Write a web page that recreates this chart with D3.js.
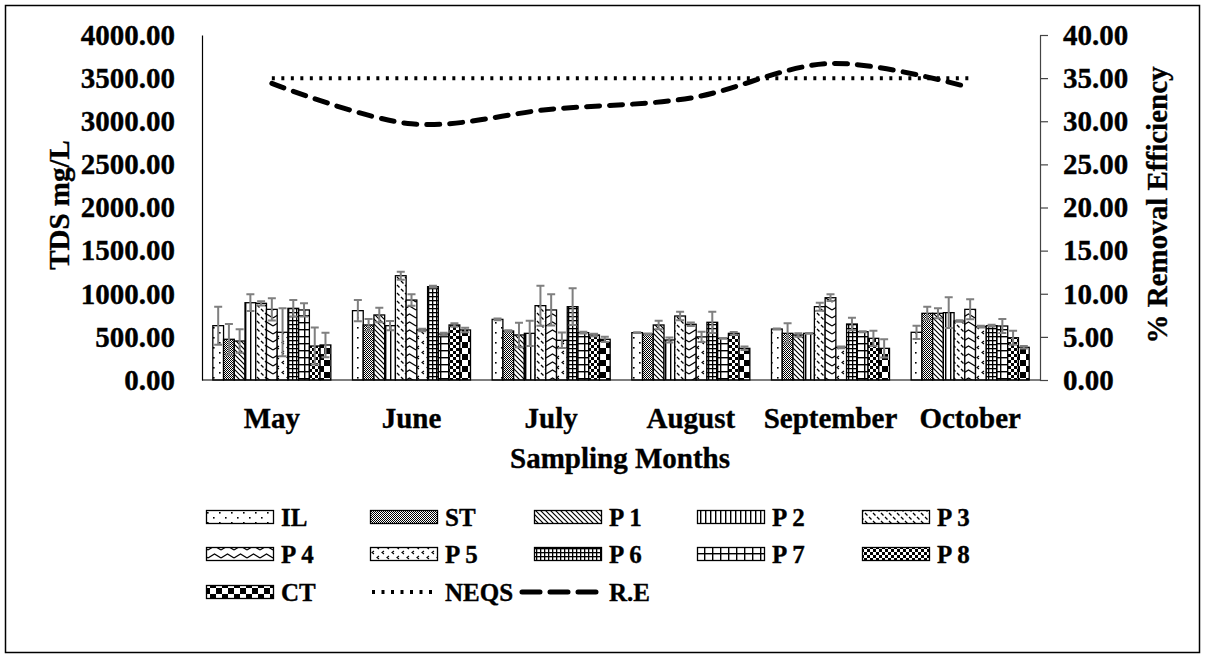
<!DOCTYPE html>
<html><head><meta charset="utf-8">
<script src="https://cdn.jsdelivr.net/npm/d3@7"></script>
<style>
body{margin:0;background:#fff}
svg text{font-family:"Liberation Serif","Times New Roman",serif;font-weight:bold;fill:#000;stroke:#000;stroke-width:0.35px}
</style></head><body>
<svg id="chart" width="1206" height="660"></svg>
<script>
// Sampling months and treatment points
const months = ["May", "June", "July", "August", "September", "October"];
const seriesNames = ["IL", "ST", "P 1", "P 2", "P 3", "P 4", "P 5", "P 6", "P 7", "P 8", "CT"];

// TDS means (mg/L) per point, one value per month
const IL = [630, 804, 703, 549, 591, 553];
const ST = [472, 638, 568, 533, 541, 773];
const P1 = [452, 754, 522, 638, 522, 773];
const P2 = [896, 630, 541, 464, 541, 781];
const P3 = [889, 1209, 862, 742, 850, 684];
const P4 = [819, 927, 812, 646, 954, 819];
const P5 = [553, 580, 460, 500, 379, 618];
const P6 = [831, 1082, 850, 669, 649, 630];
const P7 = [812, 533, 549, 483, 560, 626];
const P8 = [394, 638, 522, 541, 483, 490];
const CT = [406, 580, 472, 367, 367, 379];

// Standard deviations (mg/L)
const errIL = [220, 123, 10, 5, 5, 77];
const errST = [178, 70, 10, 5, 116, 77];
const errP1 = [136, 85, 143, 50, 20, 58];
const errP2 = [97, 54, 147, 30, 5, 178];
const errP3 = [25, 47, 232, 50, 46, 10];
const errP4 = [128, 66, 181, 20, 39, 116];
const errP5 = [278, 15, 90, 60, 10, 10];
const errP6 = [96, 10, 213, 123, 73, 10];
const errP7 = [77, 15, 10, 5, 5, 81];
const errP8 = [215, 20, 15, 15, 89, 81];
const errCT = [143, 25, 30, 20, 105, 15];

// NEQS limit (mg/L) and removal efficiency (%)
const neqs = [3500, 3500, 3500, 3500, 3500, 3500];
const removalEff = [34.4, 29.7, 31.4, 32.7, 36.7, 33.9];

// Axis ticks
const leftTicks = [0, 500, 1000, 1500, 2000, 2500, 3000, 3500, 4000];
const rightTicks = [0, 5, 10, 15, 20, 25, 30, 35, 40];

const means = [IL, ST, P1, P2, P3, P4, P5, P6, P7, P8, CT];
const errs = [errIL, errST, errP1, errP2, errP3, errP4, errP5, errP6, errP7, errP8, errCT];

const rows = [];
seriesNames.forEach((s, i) => months.forEach((m, j) => rows.push({series: s, idx: i, month: m, value: means[i][j], err: errs[i][j]})));

const svg = d3.select("#chart");
const plot = {left: 202, right: 1040, top: 35, bottom: 380};
const FS = 29;

// ---------- fill patterns ----------
const defs = svg.append("defs");
function pattern(id, w, h, draw) {
  const p = defs.append("pattern").attr("id", id).attr("patternUnits", "userSpaceOnUse")
    .attr("width", w).attr("height", h);
  p.append("rect").attr("width", w).attr("height", h).attr("fill", "#fff");
  draw(p);
}
const blk = "#000";
pattern("pat0", 12, 10, p => {          // sparse dots
  p.append("rect").attr("x", 3).attr("y", 2).attr("width", 1.6).attr("height", 1.6).attr("fill", blk);
  p.append("rect").attr("x", 9).attr("y", 7).attr("width", 1.6).attr("height", 1.6).attr("fill", blk);
});
pattern("pat1", 2, 2, p => {            // fine checker
  p.append("rect").attr("width", 1).attr("height", 1).attr("fill", blk);
  p.append("rect").attr("x", 1).attr("y", 1).attr("width", 1).attr("height", 1).attr("fill", blk);
});
pattern("pat2", 5, 5, p => {            // downward diagonal
  p.append("path").attr("d", "M0,0L5,5M-1,4L1,6M4,-1L6,1").attr("stroke", blk).attr("stroke-width", 1.2);
});
pattern("pat3", 5, 5, p => {            // vertical lines
  p.append("rect").attr("width", 1.4).attr("height", 5).attr("fill", blk);
});
pattern("pat4", 8, 8, p => {            // dashed diagonal
  p.append("path").attr("d", "M1,1L3.5,3.5M5,5L7.5,7.5").attr("stroke", blk).attr("stroke-width", 1.3);
});
pattern("pat5", 13, 8, p => {           // wave
  p.append("path").attr("d", "M0,6L6.5,2L13,6").attr("stroke", blk).attr("stroke-width", 1.2).attr("fill", "none");
});
pattern("pat6", 10, 10, p => {          // small confetti
  p.append("path").attr("d", "M4,1L2,2.5L4,4M9,6L7,7.5L9,9").attr("stroke", blk).attr("stroke-width", 1.1).attr("fill", "none");
});
pattern("pat7", 4, 4, p => {            // small grid
  p.append("rect").attr("width", 4).attr("height", 1.3).attr("fill", blk);
  p.append("rect").attr("width", 1.3).attr("height", 4).attr("fill", blk);
});
pattern("pat8", 8, 7, p => {            // large grid
  p.append("rect").attr("width", 8).attr("height", 1.4).attr("fill", blk);
  p.append("rect").attr("width", 1.4).attr("height", 7).attr("fill", blk);
});
pattern("pat9", 6, 6, p => {            // small checker board
  p.append("rect").attr("width", 3).attr("height", 3).attr("fill", blk);
  p.append("rect").attr("x", 3).attr("y", 3).attr("width", 3).attr("height", 3).attr("fill", blk);
});
pattern("pat10", 12, 12, p => {         // large checker board
  p.append("rect").attr("width", 6).attr("height", 6).attr("fill", blk);
  p.append("rect").attr("x", 6).attr("y", 6).attr("width", 6).attr("height", 6).attr("fill", blk);
});
const fillFor = i => `url(#pat${i})`;

// ---------- scales ----------
const x = d3.scaleBand().domain(months).range([plot.left, plot.right]).paddingInner(0.155).paddingOuter(0.0775);
const xs = d3.scaleBand().domain(seriesNames).range([0, x.bandwidth()]);
const yL = d3.scaleLinear().domain([0, 4000]).range([plot.bottom, plot.top]);
const yR = d3.scaleLinear().domain([0, 40]).range([plot.bottom, plot.top]);
const cx = m => x(m) + x.bandwidth() / 2;

// outer frame
svg.append("rect").attr("x", 5.5).attr("y", 5.5).attr("width", 1194).attr("height", 647)
  .attr("fill", "none").attr("stroke", "#000").attr("stroke-width", 1.5);

// ---------- bars ----------
svg.append("g").selectAll("rect").data(rows).join("rect")
  .attr("x", d => x(d.month) + xs(d.series))
  .attr("y", d => yL(d.value))
  .attr("width", xs.bandwidth())
  .attr("height", d => yL(0) - yL(d.value))
  .attr("fill", d => fillFor(d.idx))
  .attr("stroke", "#000").attr("stroke-width", 1.3);

// ---------- error bars ----------
const eg = svg.append("g").attr("stroke", "#7f7f7f").attr("stroke-width", 2).attr("fill", "none");
const ex = d => x(d.month) + xs(d.series) + xs.bandwidth() / 2;
eg.selectAll("path").data(rows).join("path")
  .attr("d", d => {
    const c = ex(d), t = yL(d.value + d.err), b = yL(Math.max(0, d.value - d.err));
    return `M${c},${t}V${b}M${c - 4},${t}H${c + 4}M${c - 4},${b}H${c + 4}`;
  });

// ---------- axes ----------
function styleText(sel) {
  sel.selectAll("text").attr("font-size", FS).attr("font-family", "Liberation Serif").attr("font-weight", "bold");
}
const axL = svg.append("g").attr("transform", `translate(${plot.left},0)`)
  .call(d3.axisLeft(yL).tickValues(leftTicks).tickFormat(d3.format(".2f")).tickSize(0).tickPadding(27));
axL.select(".domain").attr("stroke", "#000").attr("stroke-width", 1.2);
styleText(axL);

const axR = svg.append("g").attr("transform", `translate(${plot.right},0)`)
  .call(d3.axisRight(yR).tickValues(rightTicks).tickFormat(d3.format(".2f")).tickSize(8).tickSizeOuter(0).tickPadding(15));
axR.select(".domain").attr("stroke", "#444").attr("stroke-width", 1.2);
axR.selectAll("line").attr("stroke", "#444").attr("stroke-width", 1.2);
styleText(axR);

// baseline
svg.append("line").attr("x1", plot.left).attr("x2", plot.right).attr("y1", yL(0)).attr("y2", yL(0))
  .attr("stroke", "#000").attr("stroke-width", 1.2);

// month labels
svg.append("g").selectAll("text").data(months).join("text")
  .attr("x", d => cx(d)).attr("y", 428).attr("text-anchor", "middle").attr("font-size", FS).text(d => d);

// axis titles
svg.append("text").attr("x", 620).attr("y", 468).attr("text-anchor", "middle").attr("font-size", FS).text("Sampling Months");
svg.append("text").attr("transform", "translate(69,205) rotate(-90)").attr("text-anchor", "middle").attr("font-size", FS).text("TDS mg/L");
svg.append("text").attr("transform", "translate(1167,205) rotate(-90)").attr("text-anchor", "middle").attr("font-size", FS).text("% Removal Efficiency");

// ---------- lines ----------
const neqsLine = d3.line().x((d, i) => cx(months[i])).y(d => yL(d));
svg.append("path").datum(neqs).attr("d", neqsLine).attr("fill", "none")
  .attr("stroke", "#000").attr("stroke-width", 4).attr("stroke-dasharray", "3,6.5");

const reLine = d3.line().x((d, i) => cx(months[i])).y(d => yR(d)).curve(d3.curveCardinal.tension(0));
svg.append("path").datum(removalEff).attr("d", reLine).attr("fill", "none")
  .attr("stroke", "#000").attr("stroke-width", 5).attr("stroke-linecap", "round").attr("stroke-dasharray", "13,10");

// ---------- legend ----------
const legendItems = seriesNames.map((s, i) => ({name: s, type: "bar", idx: i}))
  .concat([{name: "NEQS", type: "dot"}, {name: "R.E", type: "dash"}]);
const colX = [206, 370, 534, 697, 862];
const rowY = [517, 554, 592];
const lg = svg.append("g");
legendItems.forEach((it, k) => {
  const gx = colX[k % 5], gy = rowY[Math.floor(k / 5)];
  if (it.type === "bar") {
    lg.append("rect").attr("x", gx + 0.5).attr("y", gy - 6.5).attr("width", 67).attr("height", 13)
      .attr("fill", fillFor(it.idx)).attr("stroke", "#000").attr("stroke-width", 1.3);
  } else if (it.type === "dot") {
    lg.append("line").attr("x1", gx + 2).attr("x2", gx + 68).attr("y1", gy).attr("y2", gy)
      .attr("stroke", "#000").attr("stroke-width", 4).attr("stroke-dasharray", "3,6.5");
  } else {
    lg.append("line").attr("x1", gx - 12).attr("x2", gx + 64).attr("y1", gy).attr("y2", gy)
      .attr("stroke", "#000").attr("stroke-width", 5).attr("stroke-linecap", "round").attr("stroke-dasharray", "18,10");
  }
  lg.append("text").attr("x", gx + 75).attr("y", gy + 9).attr("font-size", 25).text(it.name);
});
</script>
</body></html>
